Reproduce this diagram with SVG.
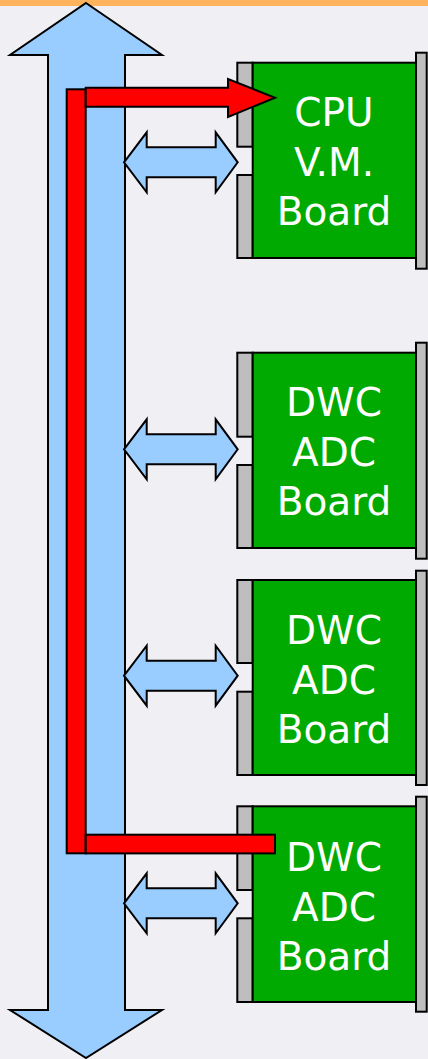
<svg xmlns="http://www.w3.org/2000/svg" width="428" height="1059" viewBox="0 0 428 1059">
  <style>
    .bus { fill: #99ccff; stroke: #000; stroke-width: 2; stroke-linejoin: miter; }
    .red { fill: #ff0000; stroke: #000; stroke-width: 2; }
    .slot { fill: #bebebe; stroke: #000; stroke-width: 2; }
    .card { fill: #00aa00; stroke: #000; stroke-width: 2; }
    .label { fill: #fff; font-family: "DejaVu Sans", Verdana, sans-serif; font-size: 39px; text-anchor: middle; }
  </style>
  <defs>
    <path id="link" class="bus" d="M124,0 L146.7,-30 L146.7,-15 L215.7,-15 L215.7,-30 L237.7,0 L215.7,30 L215.7,15 L146.7,15 L146.7,30 Z"/>
  </defs>

  <!-- page background and header strip -->
  <rect x="0" y="0" width="428" height="1059" fill="#efeff4"/>
  <rect x="0" y="0" width="428" height="6" fill="#ffb35c"/>

  <!-- backplane bus and board links -->
  <g id="connectors">
    <path id="bus" class="bus" d="M86,3 L162,55 L125,55 L125,1010 L162,1010 L86,1058 L10,1010 L48,1010 L48,55 L10,55 Z"/>
    <use href="#link" transform="translate(0,162.3)"/>
    <use href="#link" transform="translate(0,449.3)"/>
    <use href="#link" transform="translate(0,675.7)"/>
    <use href="#link" transform="translate(0,903.3)"/>
  </g>

  <!-- boards -->
  <g id="board-cpu" transform="translate(0,62.7)">
    <rect class="slot" x="237.3" y="0" width="15.4" height="84"/>
    <rect class="slot" x="237.3" y="112.3" width="15.4" height="83"/>
    <rect class="card" x="252.7" y="0" width="163.3" height="195.3"/>
    <rect class="slot" x="416" y="-10" width="10.7" height="216"/>
    <text class="label" x="334" y="63.7">CPU</text>
    <text class="label" x="334" y="113.5">V.M.</text>
    <text class="label" x="334" y="162.5">Board</text>
  </g>
  <g id="board-adc1" transform="translate(0,352.7)">
    <rect class="slot" x="237.3" y="0" width="15.4" height="84"/>
    <rect class="slot" x="237.3" y="112.3" width="15.4" height="83"/>
    <rect class="card" x="252.7" y="0" width="163.3" height="195.3"/>
    <rect class="slot" x="416" y="-10" width="10.7" height="216"/>
    <text class="label" x="334" y="63.5">DWC</text>
    <text class="label" x="334" y="113.5">ADC</text>
    <text class="label" x="334" y="162.5">Board</text>
  </g>
  <g id="board-adc2" transform="translate(0,580)">
    <rect class="slot" x="237.3" y="0" width="15.4" height="83"/>
    <rect class="slot" x="237.3" y="111.7" width="15.4" height="83.3"/>
    <rect class="card" x="252.7" y="0" width="163.3" height="195"/>
    <rect class="slot" x="416" y="-9.3" width="10.7" height="214.3"/>
    <text class="label" x="334" y="63.5">DWC</text>
    <text class="label" x="334" y="113.5">ADC</text>
    <text class="label" x="334" y="162.5">Board</text>
  </g>
  <g id="board-adc3" transform="translate(0,806.3)">
    <rect class="slot" x="237.3" y="0" width="15.4" height="83.7"/>
    <rect class="slot" x="237.3" y="112" width="15.4" height="83.7"/>
    <rect class="card" x="252.7" y="0" width="163.3" height="195.7"/>
    <rect class="slot" x="416" y="-9.6" width="10.7" height="215"/>
    <text class="label" x="334" y="65">DWC</text>
    <text class="label" x="334" y="115">ADC</text>
    <text class="label" x="334" y="164">Board</text>
  </g>

  <!-- data path from the last ADC board up to the CPU board -->
  <g id="data-path">
    <rect class="red" x="66.7" y="89.3" width="19" height="764"/>
    <path class="red" d="M85.7,87.7 L228,87.7 L228,79 L275,97.7 L228,117 L228,106.7 L85.7,106.7 Z"/>
    <rect class="red" x="85.7" y="834.7" width="189.3" height="18.7"/>
  </g>
</svg>
